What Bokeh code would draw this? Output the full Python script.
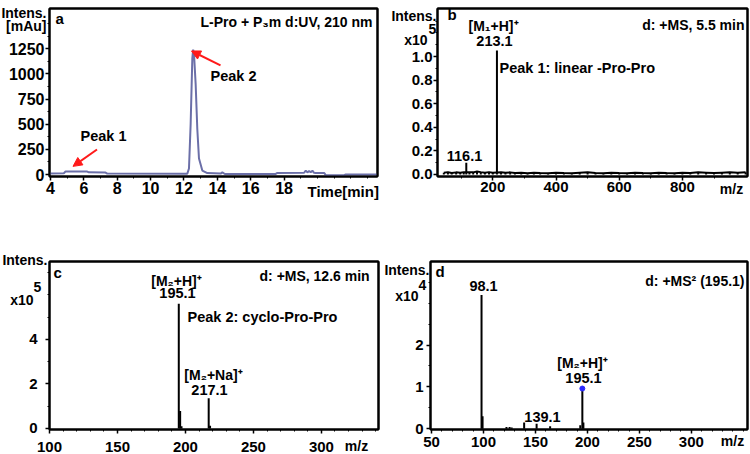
from bokeh.plotting import figure
from bokeh.layouts import row, column
from bokeh.models import Label, Arrow, NormalHead, FixedTicker, Range1d, NumeralTickFormatter, LinearAxis
from bokeh.embed import file_html
from bokeh.resources import INLINE

# ---------------- data ----------------
# (a) UV chromatogram, 210 nm
uv_time_min = [3.94, 4.8, 4.9, 6.2, 6.3, 7.3, 7.4, 12.2, 12.3, 12.4, 12.5, 12.55, 12.6, 12.7,
               12.8, 12.9, 13.1, 13.4, 14.2, 14.3, 14.45, 17.5, 17.6, 19.2, 19.3, 19.4, 19.5,
               19.6, 19.7, 19.8, 19.9, 20.4, 20.5, 21.6, 21.7, 23.6]
uv_intensity_mau = [12, 14, 30, 30, 22, 20, 10, 9, 60, 500, 1150, 1240, 1200, 900,
                    450, 160, 40, 15, 10, 22, 6, 6, 16, 18, 40, 22, 35,
                    24, 38, 18, 16, 16, -6, -6, 2, 2]

# (b) +MS at 5.5 min (x10^5)
ms_b_mz = [45, 58, 70, 84, 97, 108, 116.1, 126, 138, 150, 162, 175, 188, 200, 213.1, 226, 240,
           255, 270, 290, 310, 330, 350, 375, 400, 425, 450, 475, 500, 525, 550, 575, 600, 625,
           650, 675, 700, 725, 750, 775, 800, 825, 850, 875, 900, 925, 950, 975, 1000]
ms_b_int = [0.015, 0.02, 0.012, 0.018, 0.015, 0.02, 0.10, 0.02, 0.018, 0.025, 0.02, 0.015, 0.02,
            0.015, 1.05, 0.02, 0.015, 0.018, 0.012, 0.015, 0.01, 0.015, 0.012, 0.01, 0.015,
            0.012, 0.01, 0.015, 0.018, 0.012, 0.01, 0.015, 0.012, 0.01, 0.015, 0.012, 0.01,
            0.015, 0.012, 0.01, 0.015, 0.012, 0.018, 0.015, 0.012, 0.015, 0.018, 0.015, 0.02]
ms_b_noise_mz = [m for m, v in zip(ms_b_mz, ms_b_int) if v < 0.05]
ms_b_noise_int = [v for v in ms_b_int if v < 0.05]

# (c) +MS at 12.6 min (x10^5)
ms_c_mz = [195.1, 196.1, 197.1, 217.1, 218.1]
ms_c_int = [5.6, 0.78, 0.1, 1.35, 0.12]

# (d) +MS2 (195.1) (x10^4)
ms_d_mz = [98.1, 99.1, 122.1, 125.1, 127.1, 139.1, 151.1, 164.1, 193.1, 195.1, 196.1]
ms_d_int = [3.2, 0.3, 0.04, 0.04, 0.03, 0.15, 0.12, 0.06, 0.08, 0.93, 0.15]
precursor_mz = [195.1]
precursor_int = [0.96]

# tick labels
a_xticks = [4, 6, 8, 10, 12, 14, 16, 18]
a_yticks = [0, 250, 500, 750, 1000, 1250]
b_xticks = [200, 400, 600, 800]
b_yticks = [0.0, 0.2, 0.4, 0.6, 0.8, 1.0]
c_xticks = [100, 150, 200, 250, 300]
c_yticks = [0, 2, 4]
d_xticks = [50, 100, 150, 200, 250, 300]
d_yticks = [0, 1, 2]

FONT = "Liberation Sans"

# panel boxes / frames in page pixels, and axis ranges
SPEC = {
    "a": dict(box=(0, 0, 383, 227), frame=(49, 2, 377, 176), x=(3.94, 23.6), y=(-19, 1648)),
    "b": dict(box=(383, 0, 750, 227), frame=(437, 8, 747, 176), x=(25, 1006), y=(-0.017, 1.407)),
    "c": dict(box=(0, 227, 383, 454), frame=(49, 259, 378, 434), x=(100, 342), y=(-0.05, 7.5)),
    "d": dict(box=(383, 227, 750, 454), frame=(430, 261, 747, 429), x=(49, 354), y=(-0.02, 4.0)),
}


def at(k, px, py):
    s = SPEC[k]
    L, T, R, B = s["frame"]
    x0, x1 = s["x"]
    y0, y1 = s["y"]
    return x0 + (px - L) / (R - L) * (x1 - x0), y1 - (py - T) / (B - T) * (y1 - y0)


def make(k, xticks, yticks, xminor, yminor, tick_size, standoff=1):
    s = SPEC[k]
    bx0, by0, bx1, by1 = s["box"]
    L, T, R, B = s["frame"]
    p = figure(width=bx1 - bx0, height=by1 - by0, output_backend="svg", toolbar_location=None,
               x_range=Range1d(*s["x"]), y_range=Range1d(*s["y"]),
               min_border_left=L - bx0, min_border_right=bx1 - R,
               min_border_top=T - by0, min_border_bottom=by1 - B,
               background_fill_color="white", border_fill_color="white")
    p.xgrid.visible = False
    p.ygrid.visible = False
    p.outline_line_color = "black"
    p.outline_line_width = 2
    for ax in (p.xaxis[0], p.yaxis[0]):
        ax.axis_line_width = 2
        ax.axis_line_color = "black"
        ax.major_tick_line_width = 1.5
        ax.minor_tick_line_width = 1
        ax.major_tick_in = 0
        ax.major_tick_out = 4
        ax.minor_tick_in = 0
        ax.minor_tick_out = 2
        ax.major_label_text_font = FONT
        ax.major_label_text_font_style = "bold"
        ax.major_label_text_font_size = tick_size
        ax.major_label_text_color = "black"
        ax.major_label_standoff = standoff
    p.xaxis.ticker = FixedTicker(ticks=xticks, minor_ticks=xminor)
    p.yaxis.ticker = FixedTicker(ticks=yticks, minor_ticks=yminor)
    # closing frame lines (top and right) as tick-less axes
    for place in ("above", "right"):
        ax = LinearAxis(ticker=FixedTicker(ticks=[]), axis_line_width=2, axis_line_color="black",
                        major_tick_in=0, major_tick_out=0, minor_tick_in=0, minor_tick_out=0,
                        major_label_standoff=0, major_label_text_font_size="0px")
        p.add_layout(ax, place)
    return p


def lab(p, k, text, px, py, align="left", size="14px"):
    x, y = at(k, px, py)
    p.add_layout(Label(x=x, y=y, text=text, text_align=align, text_baseline="middle",
                       text_font=FONT, text_font_style="bold", text_font_size=size,
                       text_color="black"))


def arrow(p, k, p0, p1):
    x0, y0 = at(k, *p0)
    x1, y1 = at(k, *p1)
    p.add_layout(Arrow(x_start=x0, y_start=y0, x_end=x1, y_end=y1, line_color="#ff1a1a",
                       line_width=2, end=NormalHead(size=9, fill_color="#ff1a1a",
                                                    line_color="#ff1a1a")))


# transparent page-sized overlay for the texts that sit outside the plot frames
ov = figure(width=750, height=454, output_backend="svg", toolbar_location=None,
            x_range=Range1d(0, 750), y_range=Range1d(454, 0), x_axis_type=None,
            y_axis_type=None, min_border=0, outline_line_color=None,
            background_fill_alpha=0, border_fill_alpha=0,
            styles={"position": "absolute", "top": "0px", "left": "0px"})


def olab(text, px, py, align="left", size="14px"):
    ov.add_layout(Label(x=px, y=py, text=text, text_align=align, text_baseline="middle",
                        text_font=FONT, text_font_style="bold", text_font_size=size,
                        text_color="black"))


# ---------------- panel a ----------------
pa = make("a", a_xticks, a_yticks, [5, 7, 9, 11, 13, 15, 17, 19, 20, 21, 22, 23],
          [125, 375, 625, 875, 1125, 1375, 1500], "16px")
pa.line(uv_time_min, uv_intensity_mau, line_color="#6b6fa8", line_width=2)
lab(pa, "a", "a", 55, 12, "left", "15px")
lab(pa, "a", "L-Pro + P\u2083m d:UV, 210 nm", 372, 16, "right", "14px")
lab(pa, "a", "Peak 2", 210, 72, "left", "14.5px")
lab(pa, "a", "Peak 1", 80, 134, "left", "14.5px")
arrow(pa, "a", (220, 61), (191, 46))
arrow(pa, "a", (96.5, 148), (72.5, 165.5))
olab("Intens.", 46, 12, "right", "14px")
olab("[mAu]", 46, 25, "right", "14px")
olab("Time[min]", 307, 191, "left", "15px")

# ---------------- panel b ----------------
pb = make("b", b_xticks, b_yticks, [100, 300, 500, 700, 900],
          [0.1, 0.3, 0.5, 0.7, 0.9, 1.1, 1.2, 1.3], "15px")
pb.yaxis[0].formatter = NumeralTickFormatter(format="0.0")
pb.line(ms_b_noise_mz, ms_b_noise_int, line_color="black", line_width=2)
pb.segment(x0=ms_b_mz, y0=[0] * len(ms_b_mz), x1=ms_b_mz, y1=ms_b_int,
           line_color="black", line_width=2)
lab(pb, "b", "b", 447, 14, "left", "15px")
lab(pb, "b", "[M\u2081+H]\u207a", 493, 25, "center", "14px")
lab(pb, "b", "213.1", 494, 40, "center", "14.5px")
lab(pb, "b", "Peak 1: linear -Pro-Pro", 499, 67, "left", "14.5px")
lab(pb, "b", "d: +MS, 5.5 min", 744, 24, "right", "14px")
lab(pb, "b", "116.1", 464, 155, "center", "14.5px")
olab("Intens.", 436, 15, "right", "14px")
olab("x10", 427, 39, "right", "14px")
olab("5", 428, 28, "left", "14px")
olab("m/z", 731, 188, "center", "14px")

# ---------------- panel c ----------------
pc = make("c", c_xticks, c_yticks, [110, 120, 130, 140, 160, 170, 180, 190, 210, 220, 230,
                                    240, 260, 270, 280, 290, 310, 320, 330, 340],
          [1, 3, 5, 6, 7], "15px", standoff=8)
pc.segment(x0=ms_c_mz, y0=[0] * len(ms_c_mz), x1=ms_c_mz, y1=ms_c_int,
           line_color="black", line_width=2)
lab(pc, "c", "c", 53, 270, "left", "15px")
lab(pc, "c", "[M\u2082+H]\u207a", 176, 279, "center", "14px")
lab(pc, "c", "195.1", 177, 292, "center", "14.5px")
lab(pc, "c", "Peak 2: cyclo-Pro-Pro", 187, 317, "left", "14.5px")
lab(pc, "c", "[M\u2082+Na]\u207a", 213, 377, "center", "14px")
lab(pc, "c", "217.1", 209, 393, "center", "14.5px")
lab(pc, "c", "d: +MS, 12.6  min", 373, 274, "right", "14px")
olab("Intens.", 47, 259, "right", "14px")
olab("x10", 33, 299, "right", "14px")
olab("5", 33, 286, "left", "14px")
olab("m/z", 356, 445, "center", "14px")

# ---------------- panel d ----------------
pd_ = make("d", d_xticks, d_yticks, [60, 70, 80, 90, 110, 120, 130, 140, 160, 170, 180, 190,
                                     210, 220, 230, 240, 260, 270, 280, 290, 310, 320, 330,
                                     340, 350],
           [0.5, 1.5, 2.5, 3, 3.5], "15px", standoff=3)
pd_.segment(x0=ms_d_mz, y0=[0] * len(ms_d_mz), x1=ms_d_mz, y1=ms_d_int,
            line_color="black", line_width=2)
pd_.scatter(precursor_mz, precursor_int, marker="circle", size=5, fill_color="#2a2aff",
            line_color="#2a2aff")
lab(pd_, "d", "d", 435, 271, "left", "15px")
lab(pd_, "d", "98.1", 483, 285, "center", "14.5px")
lab(pd_, "d", "[M\u2082+H]\u207a", 582, 362, "center", "14px")
lab(pd_, "d", "195.1", 583, 377, "center", "14.5px")
lab(pd_, "d", "139.1", 542, 416, "center", "14.5px")
lab(pd_, "d", "d: +MS\u00b2 (195.1)", 744, 280, "right", "14px")
olab("Intens.", 429, 269, "right", "14px")
olab("x10", 418, 295, "right", "14px")
olab("4", 418, 284, "left", "14px")
olab("m/z", 732, 440, "center", "14px")

layout = column(row(pa, pb), row(pc, pd_), ov)

open("out.html", "w").write(file_html(layout, INLINE))
